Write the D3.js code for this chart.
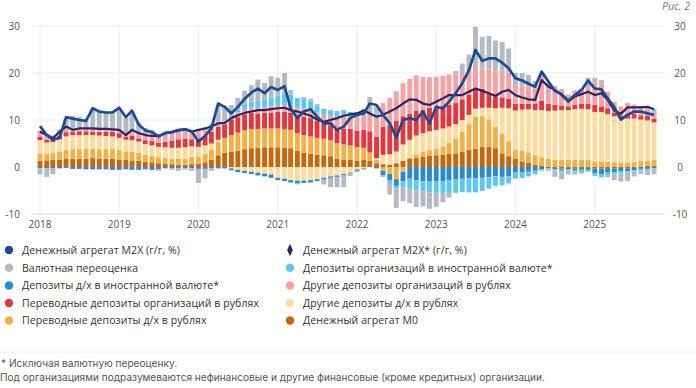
<!DOCTYPE html>
<html><head><meta charset="utf-8">
<script src="https://cdn.jsdelivr.net/npm/d3@7"></script>
<style>
body{margin:0;background:#fff;}
svg{display:block;font-family:"Open Sans",sans-serif;}
</style>
</head><body>
<svg id="c" width="696" height="388"></svg>
<script>
// ---------- DATA (monthly, Jan 2018 – Oct 2025, % y/y contributions) ----------
const startMonth = "2018-01", monthCount = 94;
const yearTicks = [2018, 2019, 2020, 2021, 2022, 2023, 2024, 2025];
const yTicks = [-10, 0, 10, 20, 30];

const m2x = [
 8.7,6.8,5.8,6.2,10.6,10.3,10.0,9.8,12.5,11.8,11.6,11.6,
 12.6,10.6,12.0,9.0,7.8,7.4,6.5,7.2,7.4,7.8,8.0,7.6,
 5.4,6.6,8.2,13.5,12.8,11.4,12.8,14.5,15.8,16.7,15.7,17.0,
 16.4,17.2,12.5,10.4,11.8,12.3,10.7,9.3,9.3,7.9,8.6,10.4,
 11.1,11.4,13.5,13.2,11.1,9.3,6.3,10.0,10.4,10.0,11.8,9.3,
 12.8,12.5,13.9,15.7,17.8,20.6,24.9,22.6,23.1,23.1,22.2,21.0,
 18.9,18.4,17.7,17.1,20.3,18.2,16.2,15.5,14.1,15.3,16.4,18.4,
 16.7,16.5,14.6,12.7,10.1,11.1,11.8,11.8,11.4,11.1];
const m2xStar = [
 7.5,6.8,6.1,7.5,8.6,7.9,8.2,8.2,8.2,8.1,8.1,8.0,
 7.9,6.8,7.9,7.2,6.8,6.6,6.6,7.2,7.5,7.9,8.0,7.5,
 7.9,8.2,8.6,9.3,9.4,10.4,11.0,11.5,11.8,12.1,12.1,12.3,
 12.5,12.6,12.1,11.8,11.4,10.9,10.1,9.6,10.0,10.4,10.9,11.2,
 11.4,12.0,11.4,10.7,11.1,11.8,12.5,13.5,14.4,14.3,13.5,13.2,
 13.9,14.6,15.3,15.3,15.3,16.0,16.7,16.2,15.7,15.1,16.0,16.4,
 15.3,14.8,14.4,14.3,18.5,17.1,16.4,15.3,13.9,15.0,15.5,16.0,
 15.3,15.7,14.3,12.0,11.3,12.7,12.7,12.7,12.8,12.3];
const m0 = [
 1.3,1.4,1.5,1.6,1.7,1.8,1.8,1.8,1.9,1.8,1.8,1.7,
 1.6,1.5,1.4,1.3,1.1,1.0,0.8,0.7,0.6,0.5,0.5,0.6,
 0.7,1.0,1.5,2.5,3.0,3.3,3.5,3.8,4.0,4.1,4.2,4.2,
 4.2,4.1,4.0,3.4,3.0,2.8,2.6,2.5,2.3,1.8,1.6,1.5,
 1.4,1.5,1.3,0.8,0.6,0.5,0.8,1.3,1.7,1.9,2.2,2.4,
 2.5,2.6,2.8,2.9,3.2,3.6,3.9,4.3,4.3,4.0,2.9,2.3,
 1.7,1.2,0.9,0.5,0.3,0.1,-0.2,-0.3,-0.2,-0.3,-0.2,-0.2,
 -0.3,-0.3,-0.2,-0.3,-0.2,-0.3,-0.2,0.1,0.2,0.3];
const trHH = [
 1.6,1.4,1.5,1.7,1.9,2.0,2.0,2.1,2.0,2.0,2.0,2.1,
 2.0,1.8,1.8,1.7,1.5,1.4,1.3,1.2,1.2,1.2,1.3,1.5,
 1.6,1.8,2.2,2.8,3.2,3.5,3.8,4.0,4.1,4.0,4.0,4.0,
 4.0,4.0,3.9,3.8,3.8,3.7,3.6,3.5,3.4,3.3,3.2,3.1,
 2.8,2.6,1.8,0.8,-0.8,-1.5,-2.6,-1.0,0.3,0.8,1.0,1.2,
 1.4,1.8,2.3,3.2,4.3,5.5,6.8,6.5,5.8,4.5,4.2,3.2,
 2.0,2.2,2.2,2.0,1.8,1.6,1.5,1.5,1.5,1.6,1.6,1.5,
 1.2,1.2,1.1,1.0,1.0,1.0,1.1,1.2,1.2,1.2];
const othHH = [
 2.8,2.4,2.3,2.6,2.9,3.0,3.0,2.9,2.9,2.9,2.8,2.7,
 2.6,2.5,2.5,2.4,2.3,2.2,2.2,2.3,2.3,2.4,2.4,2.3,
 2.0,1.8,1.3,0.5,0.0,-0.3,-0.6,-0.8,-1.0,-1.2,-1.4,-1.6,
 -2.3,-2.5,-2.8,-2.9,-2.9,-2.8,-2.6,-2.3,-2.0,-1.8,-1.5,-1.2,
 -0.5,-0.3,0.0,0.3,2.0,2.2,2.5,3.5,3.8,4.0,4.0,4.0,
 4.0,3.8,3.5,3.0,2.5,2.0,1.7,1.8,2.5,4.0,5.5,7.0,
 8.3,8.8,9.2,9.6,10.0,10.2,10.5,10.6,10.6,10.7,10.8,10.8,
 10.5,10.5,10.2,9.8,9.5,9.3,9.2,8.8,8.5,8.0];
const trOrg = [
 0.8,0.6,0.5,0.7,0.9,0.7,0.8,0.8,0.7,0.8,0.9,1.0,
 1.0,0.6,1.0,0.7,0.8,0.9,0.8,1.2,1.5,1.8,1.8,1.5,
 1.8,2.0,2.5,2.8,2.9,3.2,3.3,3.4,3.5,3.3,3.3,3.4,
 3.5,3.6,3.7,3.8,3.9,3.9,3.6,3.3,3.2,3.3,3.4,3.5,
 3.5,3.8,4.5,4.5,6.0,6.2,6.5,6.0,5.5,5.3,5.0,5.0,
 4.8,4.7,4.6,4.5,4.4,4.3,4.3,4.0,3.0,2.5,2.2,2.0,
 1.5,1.3,1.2,1.3,2.0,1.5,1.2,1.0,0.8,1.0,1.0,1.2,
 1.5,1.2,1.2,0.8,0.5,1.0,1.0,0.9,1.0,0.8];
const othOrg = [
 1.2,1.0,0.8,1.0,1.0,0.9,1.0,1.1,1.1,1.0,1.0,1.0,
 1.2,1.3,1.4,1.6,1.8,1.9,2.0,2.0,1.8,1.8,1.9,1.7,
 1.5,1.4,1.2,0.8,0.6,0.8,1.0,1.0,1.0,1.2,1.3,1.4,
 1.5,1.5,1.6,1.7,1.8,1.8,1.8,1.8,2.0,2.3,2.9,2.8,
 3.0,3.2,3.5,4.5,5.0,5.8,6.3,7.0,7.5,7.5,7.0,6.5,
 6.5,6.5,6.5,6.3,5.6,5.0,4.6,4.4,5.3,5.5,5.8,5.6,
 4.0,3.7,3.6,3.4,5.5,4.5,4.0,3.5,2.5,3.0,3.2,3.5,
 4.8,4.8,3.5,2.3,1.8,2.3,2.0,2.0,1.8,1.5];
const fxHH = [
 -0.3,-0.3,-0.3,-0.3,-0.2,-0.4,-0.4,-0.5,-0.5,-0.5,-0.5,-0.6,
 -0.6,-0.5,-0.6,-0.6,-0.5,-0.6,-0.5,-0.3,-0.3,-0.3,-0.3,-0.3,
 -0.4,-0.4,-0.3,-0.3,-0.3,-0.4,-0.5,-0.5,-0.5,-0.6,-0.6,-0.7,
 -0.5,-0.5,-0.5,-0.5,-0.5,-0.5,-0.4,-0.4,-0.3,-0.3,-0.3,-0.2,
 -0.3,-0.2,0.0,-0.3,-1.0,-1.3,-1.4,-2.0,-2.5,-2.8,-3.0,-3.1,
 -3.1,-3.0,-2.9,-2.7,-2.5,-2.4,-2.4,-2.3,-2.2,-2.0,-2.1,-2.0,
 -1.2,-1.2,-1.0,-0.8,-0.5,-0.3,-0.3,-0.3,-0.3,-0.4,-0.4,-0.4,
 -1.0,-1.3,-1.0,-0.8,-0.7,-0.6,-0.5,-0.4,-0.4,-0.3];
const fxOrg = [
 0.1,0.2,0.1,0.1,0.4,0.5,0.3,0.2,0.3,0.2,0.2,0.3,
 0.3,0.2,0.3,0.2,0.0,-0.1,0.0,0.2,0.3,0.4,0.3,0.2,
 0.5,0.5,0.4,0.3,0.2,0.4,0.6,1.0,1.3,1.5,1.6,1.8,
 2.0,2.3,2.2,2.0,2.1,1.8,1.5,1.3,1.2,1.2,1.0,0.8,
 1.0,0.8,0.8,0.5,-0.3,-0.6,-0.5,-1.3,-2.0,-2.2,-2.2,-2.3,
 -2.4,-2.5,-2.6,-2.8,-2.8,-3.0,-3.0,-2.8,-2.4,-2.0,-1.8,-1.5,
 -1.3,-1.2,-1.0,-0.8,-0.3,0.0,-0.3,-0.5,-0.3,-0.4,-0.5,-0.4,
 -0.6,-0.6,-0.5,-0.5,-0.4,-0.3,-0.3,-0.3,-0.3,0.5];
const reval = [
 -1.3,-1.8,-1.2,0.3,1.5,2.0,1.8,1.2,3.5,3.0,3.0,3.0,
 3.5,2.5,3.0,1.5,0.8,0.5,-0.3,0.0,-0.3,-0.5,-0.3,-0.5,
 -3.0,-2.0,-0.5,3.5,3.0,2.0,2.5,3.0,3.5,4.5,3.5,4.5,
 3.8,4.5,1.0,-0.3,0.3,0.5,0.3,-1.0,-2.0,-2.2,-2.5,-0.5,
 -0.3,0.5,3.0,1.5,0.0,-2.5,-4.2,-3.0,-3.2,-3.5,-3.2,-3.5,
 -3.0,-2.0,-1.0,0.5,2.0,3.5,8.5,6.7,7.0,6.4,6.0,5.1,
 2.5,2.8,2.5,1.5,0.3,-0.5,-1.3,-1.5,-0.8,-0.5,-0.3,2.0,
 1.0,0.8,-0.5,-1.2,-1.8,-1.8,-1.0,-0.8,-1.0,-1.2];

const seriesNames = {
  m2x: "Денежный агрегат М2Х (г/г, %)",
  m2xStar: "Денежный агрегат М2Х* (г/г, %)",
  reval: "Валютная переоценка",
  fxOrg: "Депозиты организаций в иностранной валюте*",
  fxHH: "Депозиты д/х в иностранной валюте*",
  othOrg: "Другие депозиты организаций в рублях",
  trOrg: "Переводные депозиты организаций в рублях",
  othHH: "Другие депозиты д/х в рублях",
  trHH: "Переводные депозиты д/х в рублях",
  m0: "Денежный агрегат М0"
};
const colors = {
  m2x:"#1b4b93", m2xStar:"#2d2462", reval:"#b5b9c4", fxOrg:"#5cc8ef", fxHH:"#2b89cc",
  othOrg:"#f5a2a4", trOrg:"#e0383f", othHH:"#fedb9e", trHH:"#f2b146", m0:"#c6680f"
};

// ---------- BUILD ----------
const parse = d3.timeParse("%Y-%m");
const months = d3.timeMonth.range(parse(startMonth), d3.timeMonth.offset(parse(startMonth), monthCount));
const stackKeys = ["m0","trHH","othHH","trOrg","othOrg","fxHH","fxOrg","reval"];
const src = {m0,trHH,othHH,trOrg,othOrg,fxHH,fxOrg,reval};
const table = months.map((d,i) => {
  const r = {date:d};
  stackKeys.forEach(k => r[k] = src[k][i]);
  r.m2x = m2x[i]; r.m2xStar = m2xStar[i];
  return r;
});

const svg = d3.select("#c");
const x = d3.scaleTime().domain([new Date(2018,0,1), new Date(2026,0,1)]).range([40, 674]);
const y = d3.scaleLinear().domain([-10, 30]).range([214, 26]);
const plotL = 32, plotR = 665;

// grid
svg.append("g").selectAll("line").data([10,20,30]).join("line")
  .attr("x1", plotL).attr("x2", plotR).attr("y1", d=>y(d)).attr("y2", d=>y(d))
  .attr("stroke", "#ececf1").attr("stroke-width", 1);
svg.append("g").selectAll("line").data(yearTicks).join("line")
  .attr("x1", d=>x(new Date(d,0,1))).attr("x2", d=>x(new Date(d,0,1)))
  .attr("y1", y(30)).attr("y2", y(-10))
  .attr("stroke", "#ececf1").attr("stroke-width", 1);

// bars
const stack = d3.stack().keys(stackKeys).offset(d3.stackOffsetDiverging);
const layers = stack(table);
const bw = 4.9;
svg.append("g").selectAll("g").data(layers).join("g")
  .attr("fill", d => colors[d.key])
  .selectAll("rect").data(d => d).join("rect")
  .attr("x", d => x(d.data.date) - bw/2)
  .attr("width", bw)
  .attr("y", d => y(Math.max(d[0], d[1])))
  .attr("height", d => Math.abs(y(d[0]) - y(d[1])));

// bottom axis line
svg.append("line").attr("x1", plotL).attr("x2", plotR).attr("y1", y(-10)).attr("y2", y(-10))
  .attr("stroke", "#d9d9e9").attr("stroke-width", 1);

// lines
const lineStar = d3.line().x(d=>x(d.date)).y(d=>y(d.m2xStar));
const lineM = d3.line().x(d=>x(d.date)).y(d=>y(d.m2x));
svg.append("path").datum(table).attr("d", lineStar).attr("fill","none")
  .attr("stroke", colors.m2xStar).attr("stroke-width", 2.2).attr("stroke-linejoin","round");
svg.append("path").datum(table).attr("d", lineM).attr("fill","none")
  .attr("stroke", colors.m2x).attr("stroke-width", 2.7).attr("stroke-linejoin","round");

// axes labels
const lab = "#555";
svg.append("g").selectAll("text").data(yTicks).join("text")
  .attr("x", 20).attr("y", d=>y(d)+3.5).attr("text-anchor","end")
  .attr("font-size", 10).attr("fill", lab).text(d=>d);
svg.append("g").selectAll("text").data(yTicks).join("text")
  .attr("x", 680).attr("y", d=>y(d)+3.5).attr("text-anchor","middle")
  .attr("font-size", 10).attr("fill", lab).text(d=>d);
svg.append("g").selectAll("text").data(yearTicks).join("text")
  .attr("x", d=>x(new Date(d,0,1))).attr("y", 228).attr("text-anchor","middle")
  .attr("font-size", 10).attr("fill", lab).text(d=>d);

svg.append("text").attr("x", 690).attr("y", 10).attr("text-anchor","end")
  .attr("font-size", 10.5).attr("font-style","italic").attr("fill","#777").text("Рис. 2");

// legend
const legend = [
  ["m2x","m2xStar"],["reval","fxOrg"],["fxHH","othOrg"],["trOrg","othHH"],["trHH","m0"]
];
const rowsY = [250, 267.7, 285.5, 303, 320.5];
const colX = [9, 290];
legend.forEach((row, r) => row.forEach((k, c) => {
  const g = svg.append("g").attr("transform", `translate(${colX[c]},${rowsY[r]})`);
  if (k === "m2xStar") {
    g.append("path").attr("d", d3.symbol(d3.symbolDiamond, 44)()).attr("transform","scale(0.8,1)").attr("fill", colors[k]);
  } else {
    g.append("circle").attr("r", 4.2).attr("fill", colors[k]);
  }
  g.append("text").attr("x", 13).attr("y", 3.8).attr("font-size", 10.5).attr("fill", "#333")
    .attr("letter-spacing", 0.08).text(seriesNames[k]);
}));

// separator and footnotes
svg.append("line").attr("x1",0).attr("x2",696).attr("y1",352).attr("y2",352).attr("stroke","#f0f0f0");
svg.append("text").attr("x",1).attr("y",367).attr("font-size",10.1).attr("fill","#555")
  .attr("font-family","Inter, sans-serif").text("* Исключая валютную переоценку.");
svg.append("text").attr("x",0).attr("y",381).attr("font-size",10.1).attr("fill","#555")
  .attr("font-family","Inter, sans-serif")
  .text("Под организациями подразумеваются нефинансовые и другие финансовые (кроме кредитных) организации.");
</script>
</body></html>
